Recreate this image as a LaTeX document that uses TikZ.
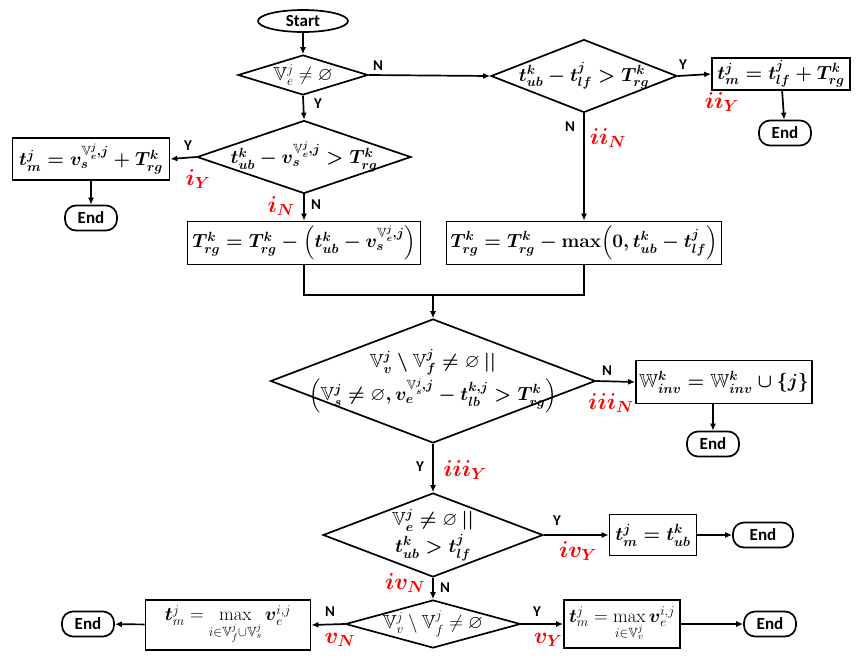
\RequirePackage{fix-cm}
\documentclass[tikz,border=0pt]{standalone}
\usepackage{amsmath}
\usepackage{amssymb}
\usepackage[no-math]{fontspec}
\setmainfont{Carlito}
\usepackage{xcolor}
\usetikzlibrary{shapes.geometric,arrows.meta}

\begin{document}
\begin{tikzpicture}[x=1pt, y=-1pt, line width=1.7pt,
    term/.style={draw, rounded corners=11pt, minimum width=52pt, minimum height=25pt, inner sep=0pt, font=\fontsize{17}{20}\selectfont\bfseries},
    proc/.style={draw, rectangle, inner sep=1pt, font=\fontsize{19}{23}\selectfont},
    decision/.style={draw, diamond, inner sep=0pt},
    dtext/.style={font=\fontsize{19}{23}\selectfont, align=center, inner sep=0pt},
    yn/.style={font=\fontsize{15}{17}\selectfont\bfseries},
    case/.style={text=red, font=\fontsize{23}{27}\selectfont},
    flow/.style={-{Latex[length=7pt,width=6pt]}}]
    \useasboundingbox (0,0) rectangle (862,665);
    % terminals
    \node (start) at (303, 21) [draw, ellipse, minimum width=90pt, minimum height=22pt, inner sep=0pt, font=\fontsize{17}{20}\selectfont\bfseries] {Start};
    \node (end1) at (91, 218) [term] {End};
    \node (end2) at (785, 133) [term] {End};
    \node (end3) at (713, 444) [term] {End};
    \node (end4) at (763, 535) [term, minimum width=60pt] {End};
    \node (end5) at (770, 624) [term] {End};
    \node (end6) at (88, 624) [term] {End};
    % decisions
    \node (d1) at (303, 75) [decision, minimum width=130pt, minimum height=40pt, label={[dtext]center:$\mathbb{V}_e^j \neq \varnothing$}] {};
    \node (d2) at (584, 76) [decision, minimum width=186pt, minimum height=73pt, label={[dtext]center:$\boldsymbol{t_{ub}^k - t_{lf}^j > T_{rg}^k}$}] {};
    \node (d3) at (304, 157) [decision, minimum width=214pt, minimum height=73pt, label={[dtext]center:$\boldsymbol{t_{ub}^k - v_s^{\mathbb{V}_e^j,j} > T_{rg}^k}$}] {};
    \node (d4) at (433, 381) [decision, minimum width=325pt, minimum height=124pt, label={[dtext]center:$\boldsymbol{\mathbb{V}_v^j \setminus \mathbb{V}_f^j \neq \varnothing\ ||}$\\[2pt]$\boldsymbol{\left(\mathbb{V}_s^j \neq \varnothing, v_e^{\mathbb{V}_s^j,j} - t_{lb}^{k,j} > T_{rg}^k\right)}$}] {};
    \node (d5) at (433, 535) [decision, minimum width=220pt, minimum height=84pt, label={[dtext]center:$\boldsymbol{\mathbb{V}_e^j \neq \varnothing\ ||}$\\[2pt]$\boldsymbol{t_{ub}^k > t_{lf}^j}$}] {};
    \node (d6) at (433, 624) [decision, minimum width=175pt, minimum height=48pt, label={[dtext]center:$\mathbb{V}_v^j \setminus \mathbb{V}_f^j \neq \varnothing$}] {};
    % processes
    \node (box1) at (91, 159) [proc, minimum width=157pt, minimum height=42pt] {$\boldsymbol{t_m^j = v_s^{\mathbb{V}_e^j,j} + T_{rg}^k}$};
    \node (box2) at (781, 74) [proc, minimum width=138pt, minimum height=32pt] {$\boldsymbol{t_m^j = t_{lf}^j + T_{rg}^k}$};
    \node (box3) at (584, 243) [proc, minimum width=275pt, minimum height=43pt] {$\boldsymbol{T_{rg}^k = T_{rg}^k -{}}\mathbf{max}\boldsymbol{\left(0, t_{ub}^k - t_{lf}^j\right)}$};
    \node (box4) at (304, 243) [proc, minimum width=233pt, minimum height=43pt] {$\boldsymbol{T_{rg}^k = T_{rg}^k - \left(t_{ub}^k - v_s^{\mathbb{V}_e^j,j}\right)}$};
    \node (box5) at (724, 382) [proc, minimum width=176pt, minimum height=43pt] {$\boldsymbol{\mathbb{W}_{inv}^k = \mathbb{W}_{inv}^k \cup \{j\}}$};
    \node (box6) at (653, 535) [proc, minimum width=87pt, minimum height=41pt] {$\boldsymbol{t_m^j = t_{ub}^k}$};
    \node (box7) at (228, 625) [proc, minimum width=165pt, minimum height=50pt] {$\boldsymbol{t}_m^j = \max\limits_{i\in\mathbb{V}_f^j\cup\mathbb{V}_s^j} \boldsymbol{v}_e^{i,j}$};
    \node (box8) at (622, 624) [proc, minimum width=116pt, minimum height=48pt] {$\boldsymbol{t}_m^j = \max\limits_{i\in\mathbb{V}_v^j} \boldsymbol{v}_e^{i,j}$};
    \coordinate (merge) at (433, 295);
    % Y / N labels
    \node (n1) at (378, 66) [yn] {N};
    \node (y1) at (318, 104) [yn] {Y};
    \node (y2) at (683, 65) [yn] {Y};
    \node (n2) at (570, 127) [yn] {N};
    \node (y3) at (188, 146) [yn] {Y};
    \node (n3) at (316, 205) [yn] {N};
    \node (n4) at (607, 371) [yn] {N};
    \node (y4) at (420, 467) [yn] {Y};
    \node (y5) at (557, 521) [yn] {Y};
    \node (n5) at (445, 588) [yn] {N};
    \node (n6) at (330, 612) [yn] {N};
    \node (y6) at (537, 612) [yn] {Y};
    % case names
    \node (iY) at (198, 179) [case] {$\boldsymbol{i_Y}$};
    \node (iN) at (281, 206) [case] {$\boldsymbol{i_N}$};
    \node (iiY) at (722, 102) [case] {$\boldsymbol{ii_Y}$};
    \node (iiN) at (608, 138) [case] {$\boldsymbol{ii_N}$};
    \node (iiiN) at (611, 403) [case] {$\boldsymbol{iii_N}$};
    \node (iiiY) at (465, 470) [case] {$\boldsymbol{iii_Y}$};
    \node (ivY) at (578, 551) [case] {$\boldsymbol{iv_Y}$};
    \node (ivN) at (405, 583) [case] {$\boldsymbol{iv_N}$};
    \node (vN) at (340, 640) [case] {$\boldsymbol{v_N}$};
    \node (vY) at (548, 640) [case] {$\boldsymbol{v_Y}$};
    % connectors
    \draw [flow] (start) -- (d1);
    \draw [flow] (d1.east) -- (d2.west);
    \draw [flow] (d1.south) -- (d3.north);
    \draw [flow] (d2.east) -- (box2.west);
    \draw [flow] (d2.south) -- (box3.north);
    \draw [flow] (box2) -- (end2);
    \draw [flow] (d3.west) -- (box1.east);
    \draw [flow] (d3.south) -- (box4.north);
    \draw [flow] (box1) -- (end1);
    \draw (box4.south) |- (merge) -| (box3.south);
    \draw [flow] (merge) -- (d4.north);
    \draw [flow] (d4.east) -- (box5.west);
    \draw [flow] (end3 |- box5.south) -- (end3);
    \draw [flow] (d4.south) -- (d5.north);
    \draw [flow] (d5.east) -- (box6.west);
    \draw [flow] (box6) -- (end4);
    \draw [flow] (d5.south) -- (d6.north);
    \draw [flow] (d6.east) -- (box8.west);
    \draw [flow] (box8) -- (end5);
    \draw [flow] (d6.west) -- (box7.east);
    \draw [flow] (box7) -- (end6);
\end{tikzpicture}
\end{document}
